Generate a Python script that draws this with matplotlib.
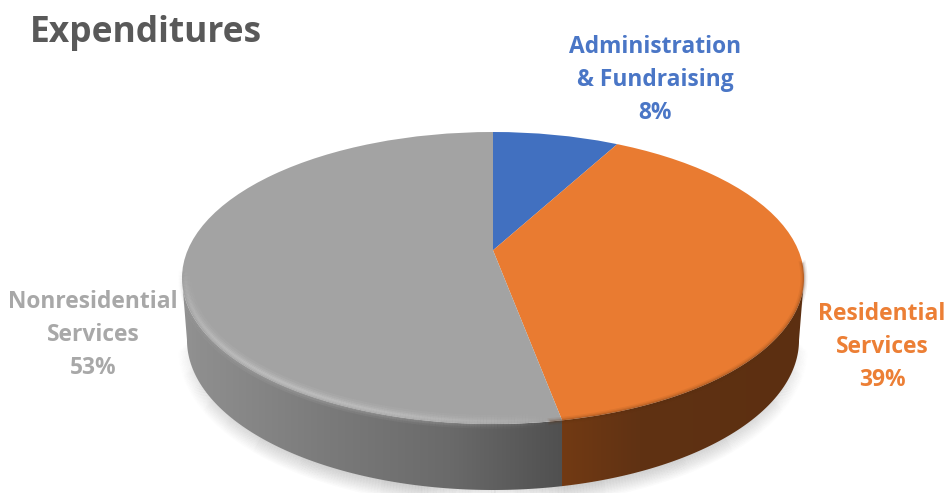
import numpy as np
import matplotlib
matplotlib.use('Agg')
import matplotlib.pyplot as plt
from matplotlib.collections import LineCollection
from matplotlib.colors import to_rgb
from matplotlib.patches import Circle, Polygon

categories = ['Administration\n& Fundraising', 'Residential\nServices', 'Nonresidential\nServices']
values = [8, 39, 53]
colors = ['#4170C0', '#E97B31', '#A3A3A3']
text_colors = ['#4A76C6', '#EC7F35', '#A8A8A8']
label_px = [(655, 80), (882, 347), (93, 335)]

# pixel geometry of the tilted disc
W, H = 951, 493
CX, CY, RX, RY = 493, 278, 311, 146
APEX = 0.19   # wedge point sits above the ellipse centre (perspective)


def ux(px):
    return (px - CX) / RX


def uy(py):
    return (CY - py) / RY


def fade_line(x, y, color, lw, alpha, zorder):
    # line whose alpha tapers to nothing at both ends
    pts = np.c_[x, y]
    segs = np.stack([pts[:-1], pts[1:]], axis=1)
    env = np.sin(np.linspace(0, np.pi, len(segs))) ** 0.7
    rgba = np.zeros((len(segs), 4))
    rgba[:, :3] = to_rgb(color)
    rgba[:, 3] = alpha * env
    ax.add_collection(LineCollection(segs, colors=rgba, linewidths=lw, zorder=zorder,
                                     capstyle='butt'))


plt.rcParams['font.family'] = ['Open Sans', 'DejaVu Sans']
fig = plt.figure(figsize=(W / 100, H / 100), dpi=100)
ax = fig.add_axes([0, 0, 1, 1])

t = np.linspace(np.pi, 2 * np.pi, 300)
top_x, top_y = np.cos(t), np.sin(t)
low_x, low_y = 0.984 * np.cos(t), uy(340) + 150 / RY * np.sin(t)

# soft shadow under the disc
for i in range(12, 0, -1):
    fade_line(low_x, low_y - 0.005 * i + 0.005, '#808080', i * 1.1, 0.035, 1)

# where the Residential / Nonresidential boundary meets the front edge
a = np.radians(360 * (values[0] + values[1]) / sum(values))
dx, dy = np.sin(a), np.cos(a)
s = -APEX * dy + np.sqrt((APEX * dy) ** 2 - APEX ** 2 + 1)
split = s * dx

# side wall, shaded left to right
px = np.linspace(0, W, 951)
grad = np.zeros((1, 951, 3))
for c in range(3):
    grad[0, :, c] = np.interp(px, [183, 200, 330, 450, 562], [0x92, 0x8e, 0x7a, 0x6a, 0x50]) / 255
right = px > CX + split * RX
grad[0, right, 0] = np.interp(px[right], [563, 640, 800], [0x72, 0x60, 0x5c]) / 255
grad[0, right, 1] = np.interp(px[right], [563, 640, 800], [0x3a, 0x32, 0x2f]) / 255
grad[0, right, 2] = np.interp(px[right], [563, 640, 800], [0x14, 0x13, 0x11]) / 255

side = Polygon(np.r_[np.c_[top_x, top_y], np.c_[low_x, low_y][::-1]], closed=True,
               transform=ax.transData, facecolor='none', edgecolor='none')
ax.add_patch(side)
img = ax.imshow(grad, extent=(ux(0), ux(W), -2, 2), aspect='auto', zorder=2)
img.set_clip_path(side)

# top face: a real pie, clipped to the unit circle and stretched by the axes limits
wedges, _ = ax.pie(values, colors=colors, startangle=90, counterclock=False,
                   center=(0, APEX), radius=3, frame=False)
disc = Circle((0, 0), 1, transform=ax.transData)
for w in wedges:
    w.set_zorder(3)
    w.set_clip_on(True)
    w.set_clip_path(disc)
    w.set_edgecolor('none')

# bevel highlight round the front of the disc, grey part only
bt = np.linspace(np.pi * 0.98, 1.56 * np.pi, 200)
for lw, al in [(10, 0.08), (7, 0.12), (4.5, 0.16), (2.5, 0.2)]:
    fade_line(0.99 * np.cos(bt), 0.985 * np.sin(bt), '#dcdcdc', lw, al, 4)
# soft edge between grey top and wall
for lw, al in [(4, 0.12), (2, 0.2)]:
    fade_line(np.cos(bt), np.sin(bt) - 0.006, '#8c8c8c', lw, al, 4)

# darker rim on the orange edge
bt2 = np.linspace(1.56 * np.pi, 2.03 * np.pi, 200)
for lw, al in [(5, 0.08), (3, 0.12), (1.5, 0.18)]:
    ax.plot(np.cos(bt2), np.sin(bt2), color='#5c2f10', lw=lw, alpha=al, zorder=4)

ax.set_aspect('auto')
ax.set_xlim(ux(0), ux(W))
ax.set_ylim(uy(H), uy(0))
ax.axis('off')

for name, val, col, (lx, ly) in zip(categories, values, text_colors, label_px):
    ax.text(ux(lx), uy(ly), f'{name}\n{val}%', color=col, ha='center', va='center',
            fontsize=16.4, fontweight='bold', linespacing=1.48, zorder=5)

ax.text(ux(30), uy(33), 'Expenditures', color='#595959', ha='left', va='center',
        fontsize=25.5, fontweight='bold', zorder=5)

fig.savefig('out.png', dpi=100)
